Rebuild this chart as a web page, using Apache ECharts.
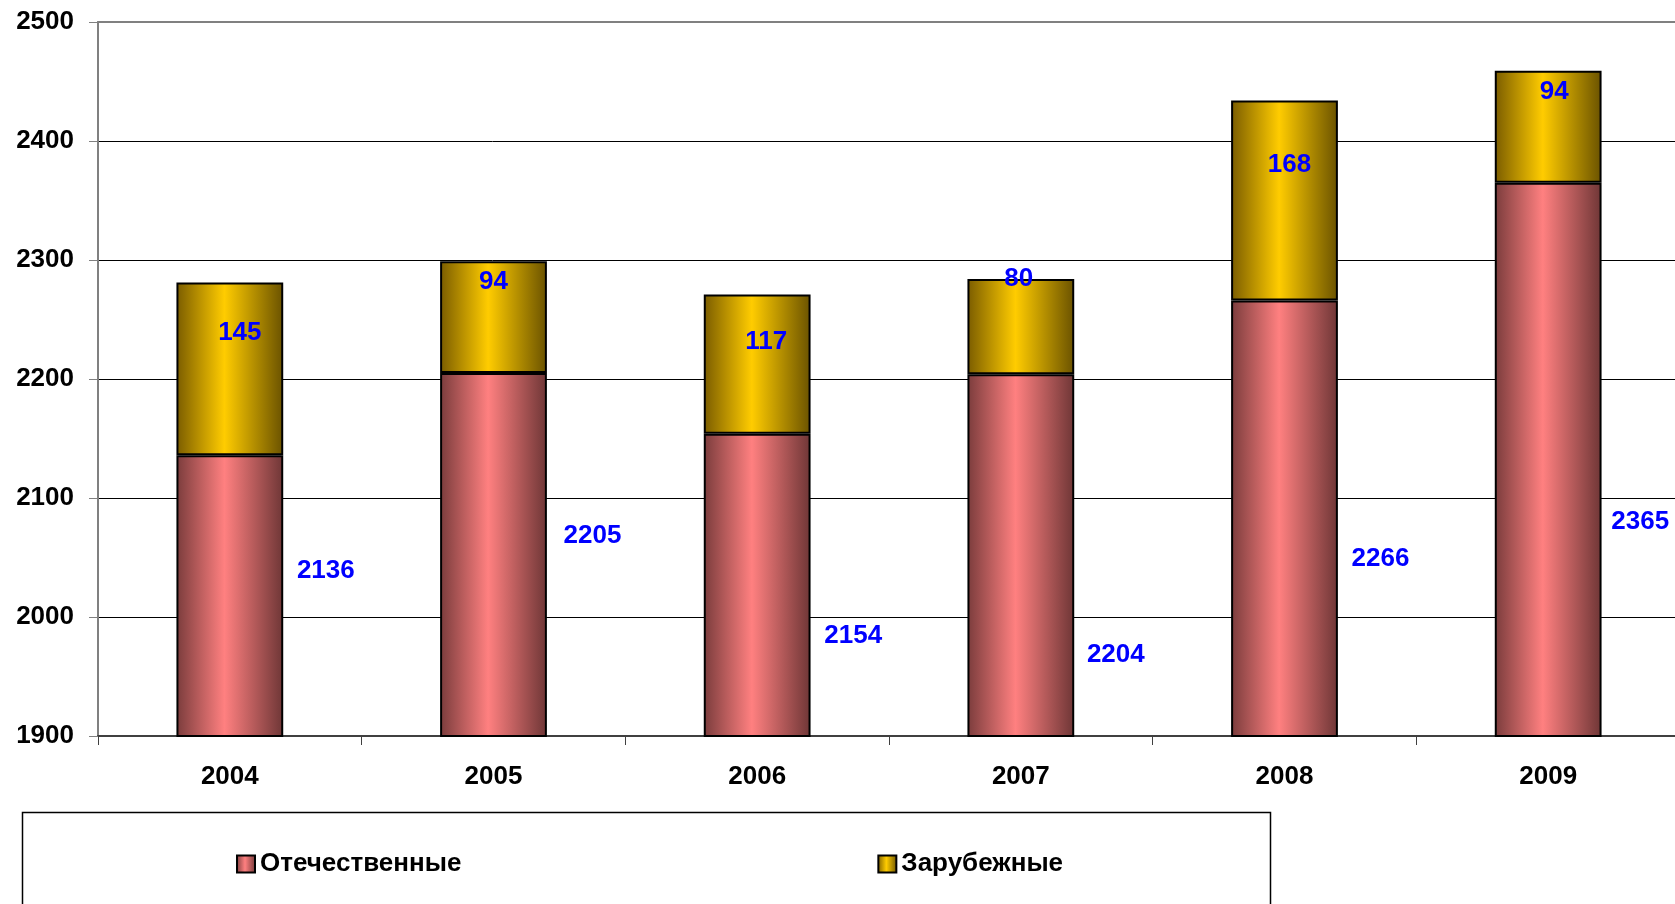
<!DOCTYPE html>
<html>
<head>
<meta charset="utf-8">
<script src="https://cdn.jsdelivr.net/npm/echarts@6/dist/echarts.min.js"></script>
<style>
html,body{margin:0;padding:0;background:#fff;}
#chart{width:1675px;height:904px;}
</style>
</head>
<body>
<div id="chart"></div>
<script>
// ---- data ----
var years = ['2004', '2005', '2006', '2007', '2008', '2009'];
var domestic = [2136, 2205, 2154, 2204, 2266, 2365];
var foreign = [145, 94, 117, 80, 168, 94];
var seriesNames = ['Отечественные', 'Зарубежные'];

// ---- label placement (style) ----
var domesticLabelOffset = [[96, -25], [99, -19], [96, 50], [95, 99], [96, 40], [92, 62]];
var foreignLabelOffset = [[10, -36], [0, -35], [9, -22], [-2, -48], [5, -36], [6, -35]];

var FONT = 'Arial, "Liberation Sans", sans-serif';

function grad(edgeL, mid, edgeR) {
  return new echarts.graphic.LinearGradient(0, 0, 1, 0, [
    {offset: 0, color: edgeL},
    {offset: 0.45, color: mid},
    {offset: 1, color: edgeR}
  ]);
}
var redFill = grad('#7a3c3c', '#ff8080', '#6e3636');
var yellowFill = grad('#7a5c00', '#ffcc00', '#6a5200');

var domesticData = domestic.map(function (v, i) {
  return {value: v, label: {offset: domesticLabelOffset[i]}};
});
var foreignData = foreign.map(function (v, i) {
  return {value: v, label: {offset: foreignLabelOffset[i]}};
});

var labelStyle = {
  show: true,
  position: 'inside',
  color: '#0000ff',
  fontFamily: FONT,
  fontWeight: 'bold',
  fontSize: 26
};

var chart = echarts.init(document.getElementById('chart'), null, {renderer: 'canvas'});
chart.setOption({
  animation: false,
  backgroundColor: '#fff',
  grid: {left: 98, width: 1582, top: 22, bottom: 168, containLabel: false, outerBoundsMode: 'none'},
  xAxis: [{
    type: 'category',
    data: years,
    boundaryGap: true,
    axisLine: {lineStyle: {color: '#404040', width: 2}},
    axisTick: {show: true, length: 9, lineStyle: {color: '#404040', width: 1}},
    axisLabel: {color: '#000', fontFamily: FONT, fontWeight: 'bold', fontSize: 26, margin: 28}
  }, {
    type: 'category',
    data: years,
    position: 'top',
    axisLine: {show: true, lineStyle: {color: '#808080', width: 2}},
    axisTick: {show: false},
    axisLabel: {show: false}
  }],
  yAxis: {
    type: 'value',
    min: 1900,
    max: 2500,
    interval: 100,
    axisLine: {show: true, lineStyle: {color: '#808080', width: 2}},
    axisTick: {show: true, length: 9, lineStyle: {color: '#808080', width: 1}},
    splitLine: {show: true, lineStyle: {color: '#000', width: 1}},
    axisLabel: {
      color: '#000', fontFamily: FONT, fontWeight: 'bold', fontSize: 26, margin: 24,
      formatter: function (v) { return String(v); }
    }
  },
  legend: {
    left: 231,
    top: 846,
    itemWidth: 18,
    itemHeight: 17,
    itemGap: 416,
    icon: 'rect',
    textStyle: {color: '#000', fontFamily: FONT, fontWeight: 'bold', fontSize: 26},
    data: seriesNames
  },
  graphic: [{
    type: 'rect',
    left: 20,
    top: 810,
    shape: {width: 1248, height: 120},
    style: {fill: 'none', stroke: '#000', lineWidth: 1.5},
    z: -1
  }],
  series: [{
    name: seriesNames[0],
    type: 'bar',
    stack: 'total',
    barWidth: '40.5%',
    data: domesticData,
    itemStyle: {color: redFill, borderColor: '#000', borderWidth: 2},
    label: labelStyle
  }, {
    name: seriesNames[1],
    type: 'bar',
    stack: 'total',
    barWidth: '40.5%',
    data: foreignData,
    itemStyle: {color: yellowFill, borderColor: '#000', borderWidth: 2},
    label: labelStyle
  }]
});
</script>
</body>
</html>
